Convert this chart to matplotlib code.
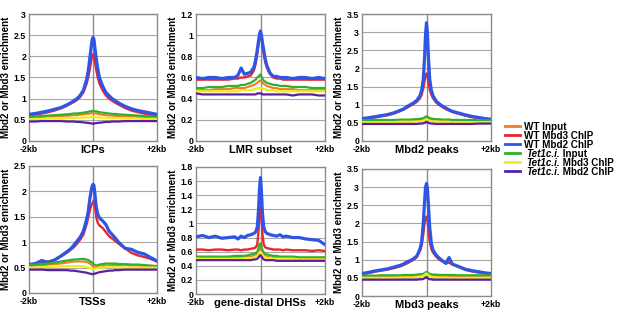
import matplotlib
matplotlib.use("Agg")
import matplotlib.pyplot as plt
from matplotlib.lines import Line2D

plt.rcParams['font.family'] = ['Liberation Sans', 'DejaVu Sans']
plt.rcParams['font.weight'] = 'bold'

# positions relative to region centre (bp)
pos = [-2000, -1800, -1600, -1400, -1200, -1000, -800, -700, -600, -500, -400, -300,
       -200, -150, -100, -60, -30, 0, 30, 60, 100, 150, 200,
       300, 400, 500, 600, 700, 800, 1000, 1200, 1400, 1600, 1800, 2000]

# (italic prefix, plain part) for the legend
series_names = [("", "WT Input"), ("", "WT Mbd3 ChIP"), ("", "WT Mbd2 ChIP"),
                ("Tet1c.i.", " Input"), ("Tet1c.i.", " Mbd3 ChIP"),
                ("Tet1c.i.", " Mbd2 ChIP")]
colors = ["#F47B20", "#E8262B", "#2E55E6", "#2EB22E", "#F2EC1C", "#5A20A0"]
widths = [1.5, 1.7, 2.3, 1.6, 1.6, 1.6]

panel_titles = ["ICPs", "LMR subset", "Mbd2 peaks", "TSSs", "gene-distal DHSs", "Mbd3 peaks"]
panel_ymax = [3, 1.2, 3.5, 2.5, 1.8, 3.5]
panel_ystep = [0.5, 0.2, 0.5, 0.5, 0.2, 0.5]

# ICPs
icp_orange = [0.55,0.56,0.57,0.58,0.58,0.59,0.6,0.6,0.61,0.61,0.62,0.63,0.64,0.64,0.65,0.65,0.66,0.66,0.66,0.65,0.65,0.64,0.63,0.62,0.61,0.6,0.6,0.59,0.59,0.58,0.58,0.57,0.56,0.56,0.55]
icp_red = [0.6,0.62,0.65,0.68,0.72,0.77,0.84,0.88,0.92,0.97,1.04,1.15,1.35,1.5,1.7,1.88,2.0,2.05,2.03,1.88,1.68,1.5,1.36,1.2,1.08,1.0,0.95,0.9,0.86,0.78,0.72,0.68,0.65,0.62,0.6]
icp_blue = [0.63,0.65,0.68,0.71,0.75,0.79,0.86,0.9,0.95,1.0,1.08,1.2,1.45,1.65,1.95,2.2,2.38,2.45,2.4,2.2,1.95,1.7,1.5,1.3,1.15,1.07,1.0,0.95,0.9,0.82,0.76,0.72,0.69,0.66,0.63]
icp_green = [0.57,0.58,0.59,0.6,0.61,0.62,0.63,0.64,0.65,0.65,0.66,0.67,0.68,0.69,0.7,0.7,0.71,0.71,0.71,0.7,0.7,0.69,0.68,0.67,0.66,0.65,0.64,0.64,0.63,0.62,0.61,0.6,0.59,0.58,0.57]
icp_yellow = [0.51,0.52,0.52,0.53,0.53,0.53,0.54,0.54,0.54,0.55,0.55,0.55,0.56,0.56,0.56,0.56,0.57,0.57,0.57,0.56,0.56,0.56,0.55,0.55,0.55,0.54,0.54,0.54,0.54,0.53,0.53,0.53,0.52,0.52,0.52]
icp_purple = [0.46,0.46,0.47,0.47,0.47,0.47,0.46,0.46,0.46,0.45,0.45,0.44,0.43,0.43,0.42,0.42,0.41,0.41,0.41,0.42,0.42,0.43,0.43,0.44,0.45,0.45,0.46,0.46,0.46,0.47,0.47,0.47,0.47,0.47,0.47]

# LMR subset
lmr_orange = [0.48,0.48,0.48,0.49,0.49,0.49,0.5,0.5,0.5,0.5,0.51,0.52,0.53,0.54,0.55,0.56,0.57,0.57,0.56,0.55,0.54,0.53,0.52,0.51,0.5,0.5,0.49,0.49,0.49,0.49,0.48,0.48,0.48,0.48,0.48]
lmr_red = [0.58,0.58,0.58,0.58,0.58,0.58,0.59,0.59,0.6,0.6,0.61,0.62,0.67,0.73,0.82,0.92,0.98,1.0,0.97,0.9,0.82,0.74,0.69,0.63,0.6,0.59,0.59,0.58,0.58,0.58,0.58,0.58,0.58,0.58,0.58]
lmr_blue = [0.6,0.59,0.6,0.6,0.59,0.6,0.6,0.62,0.69,0.63,0.64,0.65,0.7,0.77,0.86,0.95,1.01,1.04,1.0,0.93,0.86,0.77,0.71,0.64,0.61,0.61,0.6,0.6,0.6,0.59,0.6,0.6,0.59,0.6,0.59]
lmr_green = [0.5,0.5,0.51,0.51,0.51,0.52,0.52,0.52,0.53,0.53,0.54,0.55,0.57,0.58,0.6,0.61,0.62,0.63,0.61,0.59,0.57,0.56,0.55,0.54,0.53,0.53,0.52,0.52,0.52,0.51,0.51,0.51,0.5,0.5,0.5]
lmr_yellow = [0.47,0.47,0.47,0.47,0.47,0.47,0.47,0.47,0.48,0.48,0.48,0.48,0.49,0.49,0.5,0.5,0.5,0.5,0.5,0.5,0.49,0.49,0.48,0.48,0.48,0.47,0.47,0.47,0.47,0.47,0.47,0.47,0.47,0.47,0.47]
lmr_purple = [0.45,0.44,0.44,0.44,0.44,0.44,0.44,0.44,0.44,0.44,0.44,0.44,0.44,0.44,0.45,0.45,0.45,0.45,0.45,0.44,0.44,0.44,0.44,0.44,0.44,0.44,0.44,0.44,0.44,0.43,0.44,0.44,0.44,0.43,0.43]

# Mbd2 peaks
m2_orange = [0.54,0.54,0.55,0.55,0.55,0.55,0.56,0.56,0.56,0.56,0.57,0.57,0.58,0.58,0.59,0.6,0.61,0.62,0.61,0.6,0.59,0.58,0.58,0.57,0.57,0.56,0.56,0.56,0.55,0.55,0.55,0.55,0.54,0.54,0.54]
m2_red = [0.6,0.62,0.65,0.68,0.71,0.76,0.83,0.87,0.92,0.97,1.02,1.08,1.18,1.28,1.45,1.65,1.8,1.86,1.8,1.62,1.42,1.28,1.18,1.06,0.99,0.93,0.88,0.84,0.8,0.75,0.7,0.66,0.63,0.6,0.58]
m2_blue = [0.62,0.64,0.67,0.7,0.73,0.78,0.85,0.89,0.95,1.0,1.05,1.12,1.25,1.4,1.7,2.3,2.95,3.26,2.95,2.3,1.7,1.4,1.25,1.1,1.02,0.96,0.91,0.86,0.82,0.77,0.72,0.68,0.65,0.62,0.6]
m2_green = [0.57,0.57,0.58,0.58,0.58,0.58,0.59,0.59,0.59,0.59,0.6,0.6,0.61,0.62,0.63,0.65,0.67,0.68,0.67,0.65,0.63,0.62,0.61,0.6,0.6,0.59,0.59,0.59,0.58,0.58,0.58,0.58,0.57,0.57,0.57]
m2_yellow = [0.52,0.52,0.52,0.52,0.52,0.52,0.53,0.53,0.53,0.53,0.53,0.54,0.54,0.55,0.56,0.57,0.59,0.6,0.59,0.57,0.56,0.55,0.54,0.54,0.53,0.53,0.53,0.53,0.52,0.52,0.52,0.52,0.52,0.52,0.52]
m2_purple = [0.47,0.47,0.47,0.47,0.47,0.47,0.47,0.47,0.47,0.47,0.47,0.47,0.48,0.48,0.49,0.5,0.52,0.53,0.52,0.5,0.49,0.48,0.48,0.47,0.47,0.47,0.47,0.47,0.47,0.47,0.47,0.47,0.48,0.48,0.48]

# TSSs
tss_orange = [0.53,0.54,0.55,0.56,0.57,0.58,0.6,0.61,0.62,0.62,0.62,0.62,0.61,0.6,0.58,0.56,0.54,0.52,0.5,0.49,0.5,0.51,0.52,0.53,0.54,0.54,0.55,0.55,0.55,0.55,0.54,0.54,0.53,0.53,0.52]
tss_red = [0.55,0.57,0.6,0.62,0.65,0.72,0.8,0.85,0.9,0.97,1.05,1.15,1.35,1.48,1.62,1.72,1.76,1.78,1.82,1.7,1.5,1.38,1.33,1.28,1.2,1.12,1.07,1.02,0.97,0.88,0.79,0.74,0.71,0.67,0.62]
tss_blue = [0.56,0.58,0.64,0.6,0.65,0.73,0.82,0.87,0.94,1.02,1.1,1.22,1.45,1.6,1.85,2.0,2.1,2.14,2.12,1.95,1.7,1.55,1.48,1.42,1.35,1.22,1.15,1.08,1.0,0.88,0.86,0.8,0.77,0.7,0.63]
tss_green = [0.55,0.56,0.57,0.58,0.6,0.62,0.64,0.65,0.66,0.66,0.67,0.67,0.66,0.65,0.63,0.61,0.6,0.58,0.56,0.55,0.54,0.55,0.56,0.57,0.58,0.58,0.58,0.58,0.57,0.57,0.56,0.56,0.55,0.54,0.53]
tss_yellow = [0.5,0.5,0.51,0.51,0.52,0.52,0.53,0.53,0.53,0.53,0.53,0.52,0.51,0.5,0.49,0.48,0.47,0.47,0.47,0.47,0.48,0.49,0.5,0.5,0.51,0.51,0.51,0.51,0.51,0.5,0.5,0.5,0.5,0.5,0.5]
tss_purple = [0.46,0.46,0.46,0.45,0.45,0.45,0.45,0.44,0.44,0.43,0.42,0.41,0.4,0.39,0.38,0.38,0.37,0.37,0.38,0.38,0.39,0.4,0.41,0.42,0.43,0.44,0.44,0.45,0.45,0.46,0.46,0.46,0.46,0.46,0.46]

# gene-distal DHSs
dhs_orange = [0.51,0.51,0.51,0.51,0.51,0.51,0.52,0.52,0.52,0.52,0.53,0.53,0.54,0.55,0.57,0.6,0.63,0.65,0.62,0.58,0.55,0.54,0.53,0.52,0.52,0.52,0.51,0.51,0.51,0.51,0.51,0.5,0.5,0.5,0.5]
dhs_red = [0.63,0.63,0.62,0.63,0.63,0.62,0.63,0.63,0.62,0.63,0.63,0.64,0.65,0.66,0.7,0.9,1.15,1.23,1.1,0.85,0.7,0.66,0.65,0.64,0.63,0.63,0.63,0.62,0.63,0.62,0.62,0.62,0.61,0.62,0.61]
dhs_blue = [0.81,0.83,0.8,0.82,0.79,0.8,0.81,0.78,0.82,0.8,0.83,0.84,0.86,0.88,0.95,1.2,1.5,1.65,1.45,1.15,0.95,0.88,0.86,0.84,0.83,0.82,0.84,0.81,0.82,0.8,0.8,0.78,0.77,0.76,0.7]
dhs_green = [0.53,0.53,0.53,0.53,0.53,0.53,0.54,0.54,0.54,0.54,0.55,0.56,0.57,0.58,0.6,0.65,0.7,0.72,0.68,0.62,0.59,0.57,0.56,0.55,0.54,0.54,0.53,0.53,0.53,0.53,0.52,0.52,0.52,0.52,0.52]
dhs_yellow = [0.5,0.5,0.5,0.5,0.5,0.5,0.5,0.5,0.5,0.51,0.51,0.51,0.52,0.53,0.54,0.56,0.59,0.6,0.58,0.55,0.53,0.52,0.51,0.51,0.5,0.5,0.5,0.5,0.5,0.5,0.49,0.49,0.49,0.49,0.49]
dhs_purple = [0.48,0.48,0.48,0.48,0.48,0.48,0.48,0.48,0.48,0.48,0.48,0.48,0.49,0.49,0.5,0.52,0.54,0.55,0.53,0.51,0.49,0.48,0.48,0.48,0.48,0.47,0.47,0.47,0.47,0.47,0.47,0.47,0.47,0.47,0.47]

# Mbd3 peaks
m3_orange = [0.52,0.52,0.52,0.53,0.53,0.53,0.53,0.53,0.54,0.54,0.54,0.54,0.55,0.55,0.56,0.57,0.59,0.6,0.59,0.57,0.56,0.55,0.55,0.54,0.54,0.54,0.53,0.53,0.53,0.53,0.53,0.52,0.52,0.52,0.52]
m3_red = [0.6,0.63,0.67,0.7,0.73,0.77,0.82,0.86,0.9,0.95,1.0,1.07,1.25,1.4,1.7,2.0,2.15,2.19,2.1,1.8,1.5,1.3,1.2,1.08,1.0,0.95,0.9,0.92,0.87,0.8,0.72,0.68,0.65,0.62,0.6]
m3_blue = [0.62,0.65,0.69,0.72,0.75,0.8,0.85,0.89,0.94,0.98,1.03,1.1,1.3,1.5,2.0,2.6,3.0,3.1,2.95,2.5,1.9,1.45,1.27,1.13,1.04,0.97,0.9,1.06,0.88,0.81,0.74,0.7,0.67,0.64,0.62]
m3_green = [0.56,0.56,0.56,0.57,0.57,0.57,0.57,0.58,0.58,0.58,0.58,0.59,0.6,0.6,0.61,0.63,0.65,0.66,0.65,0.63,0.61,0.6,0.59,0.59,0.58,0.58,0.58,0.58,0.58,0.57,0.57,0.57,0.57,0.57,0.57]
m3_yellow = [0.5,0.5,0.5,0.5,0.5,0.5,0.51,0.51,0.51,0.51,0.51,0.52,0.53,0.54,0.56,0.58,0.61,0.62,0.6,0.57,0.55,0.53,0.52,0.51,0.51,0.51,0.51,0.5,0.5,0.5,0.5,0.5,0.5,0.5,0.5]
m3_purple = [0.45,0.45,0.45,0.45,0.45,0.45,0.45,0.45,0.45,0.45,0.45,0.45,0.46,0.46,0.47,0.49,0.51,0.52,0.5,0.48,0.46,0.46,0.45,0.45,0.45,0.45,0.45,0.45,0.45,0.45,0.45,0.45,0.45,0.45,0.45]

panel_data = [
    [icp_orange, icp_red, icp_blue, icp_green, icp_yellow, icp_purple],
    [lmr_orange, lmr_red, lmr_blue, lmr_green, lmr_yellow, lmr_purple],
    [m2_orange, m2_red, m2_blue, m2_green, m2_yellow, m2_purple],
    [tss_orange, tss_red, tss_blue, tss_green, tss_yellow, tss_purple],
    [dhs_orange, dhs_red, dhs_blue, dhs_green, dhs_yellow, dhs_purple],
    [m3_orange, m3_red, m3_blue, m3_green, m3_yellow, m3_purple],
]

W, H = 617, 321
fig = plt.figure(figsize=(W / 100, H / 100), dpi=100)

# axes boxes in pixels: left, top, right, bottom
boxes = [(29, 14, 157, 141), (196, 14, 325, 141), (362, 14, 491, 141),
         (29, 166, 157, 293), (196, 167, 325, 294), (362, 169, 491, 296)]

for k, (l, t, r, b) in enumerate(boxes):
    ax = fig.add_axes([l / W, 1 - b / H, (r - l) / W, (b - t) / H])
    ax.axvline(0, color="#8c8c8c", lw=1.0, zorder=1)
    for j, ys in enumerate(panel_data[k]):
        ax.plot(pos, ys, color=colors[j], lw=widths[j], zorder=2 + j,
                solid_joinstyle="round")
    ax.set_xlim(-2000, 2000)
    ymax = panel_ymax[k]
    step = panel_ystep[k]
    nt = int(round(ymax / step))
    yt = [i * step for i in range(nt + 1)]
    ax.set_ylim(0, ymax)
    ax.set_yticks(yt)
    ax.set_yticklabels([("%g" % v) for v in yt], fontsize=6.3, fontweight="bold")
    ax.grid(axis="y", color="#a8a8a8", lw=0.8)
    ax.set_axisbelow(True)
    ax.set_xticks([-2000, 0, 2000])
    ax.set_xticklabels(["-2kb", panel_titles[k], "+2kb"], fontsize=6.3, fontweight="bold")
    ax.get_xticklabels()[1].set_fontsize(8)
    ax.tick_params(length=0, pad=2)
    ax.tick_params(axis="x", pad=3)
    for s in ax.spines.values():
        s.set_color("#8c8c8c")
        s.set_linewidth(1.0)
    ax.set_ylabel("Mbd2 or Mbd3 enrichment", fontsize=7, fontweight="bold", labelpad=2)

# legend drawn row by row: italic strain name followed by plain text
renderer = fig.canvas.get_renderer()
for i, (ital, plain) in enumerate(series_names):
    yc = 1 - (126 + 9 * i) / H
    fig.add_artist(Line2D([505 / W, 520 / W], [yc, yc], color=colors[i], lw=2.0,
                          transform=fig.transFigure))
    x0 = 524 / W
    if ital:
        t = fig.text(526 / W, yc, ital, fontsize=7.1, fontweight="bold",
                     fontstyle="italic", va="center_baseline")
        x0 = fig.transFigure.inverted().transform(
            (t.get_window_extent(renderer).x1, 0))[0]
    fig.text(x0, yc, plain, fontsize=7.1, fontweight="bold", va="center_baseline")

fig.savefig("out.png", dpi=100, facecolor="white")
